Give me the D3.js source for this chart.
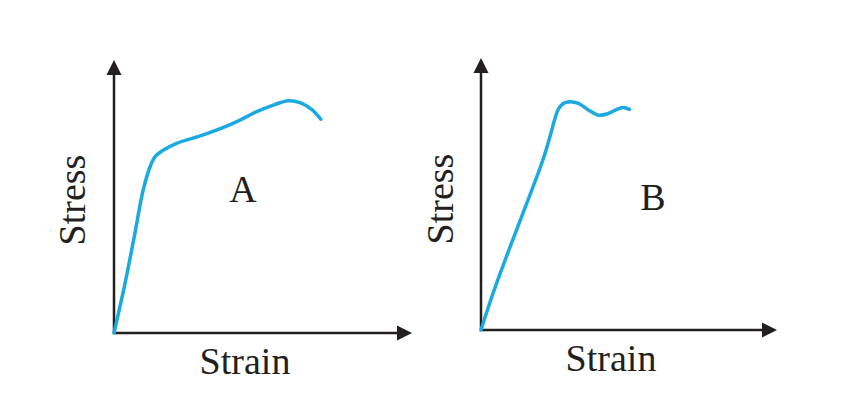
<!DOCTYPE html>
<html>
<head>
<meta charset="utf-8">
<script src="https://cdn.jsdelivr.net/npm/d3@7"></script>
<style>
  html, body { margin: 0; padding: 0; background: #ffffff; }
  svg { display: block; }
  text { font-family: "Liberation Serif", "Times New Roman", serif; fill: #231f20; }
</style>
</head>
<body>
<svg id="chart" width="841" height="404"></svg>
<script>
// ---- Data (arbitrary units, 0..100 on both axes) ----
const strainA = [0, 3.7, 6.8, 9.8, 12.1, 13.8, 16.6, 21.0, 28.9, 37.8, 42.3, 47.9, 53.5, 58.5, 62.4, 66.3, 69.4];
const stressA = [0, 18.2, 35.3, 52.4, 60.9, 64.6, 67.0, 69.5, 72.2, 75.8, 78.0, 81.1, 83.5, 85.1, 84.4, 81.9, 78.3];

const strainB = [0, 4.1, 9.8, 15.5, 20.9, 23.3, 25.0, 26.1, 27.8, 30.1, 32.9, 36.3, 39.6, 42.5, 45.9, 48.1, 50.1];
const stressB = [0, 13.6, 30.5, 46.7, 62.5, 71.1, 77.8, 81.1, 83.3, 83.9, 83.3, 80.9, 79.0, 79.4, 81.1, 81.8, 81.1];

const panelNames = ["A", "B"];
const xAxisTitle = "Strain";
const yAxisTitle = "Stress";
const axisDomain = [0, 100];

// ---- Layout ----
const svg = d3.select("#chart");
const axisColor = "#231f20";
const curveColor = "#1ba9e1";

const panels = [
  { name: panelNames[0], strain: strainA, stress: stressA,
    x0: 114, x1: 412, y0: 333, y1: 60,
    label: [243, 202], xTitle: [245, 374], yTitle: [85, 200] },
  { name: panelNames[1], strain: strainB, stress: stressB,
    x0: 481, x1: 777, y0: 330, y1: 58,
    label: [653, 210], xTitle: [611, 371], yTitle: [453, 199] }
];

const arrowLen = 15, arrowHalf = 7.5;

panels.forEach(p => {
  const x = d3.scaleLinear().domain(axisDomain).range([p.x0, p.x1]);
  const y = d3.scaleLinear().domain(axisDomain).range([p.y0, p.y1]);
  const g = svg.append("g");

  // axes lines
  g.append("line")
    .attr("x1", x(0)).attr("y1", y(0))
    .attr("x2", x(100) - arrowLen + 1).attr("y2", y(0))
    .attr("stroke", axisColor).attr("stroke-width", 2.5);
  g.append("line")
    .attr("x1", x(0)).attr("y1", y(0) + 1)
    .attr("x2", x(0)).attr("y2", y(100) + arrowLen - 1)
    .attr("stroke", axisColor).attr("stroke-width", 2.5);

  // arrowheads
  const xt = x(100), yt = y(0);
  g.append("path")
    .attr("d", `M${xt},${yt} L${xt - arrowLen},${yt - arrowHalf} L${xt - arrowLen},${yt + arrowHalf} Z`)
    .attr("fill", axisColor);
  const xa = x(0), ya = y(100);
  g.append("path")
    .attr("d", `M${xa},${ya} L${xa - arrowHalf},${ya + arrowLen} L${xa + arrowHalf},${ya + arrowLen} Z`)
    .attr("fill", axisColor);

  // curve
  const pts = p.strain.map((s, i) => [s, p.stress[i]]);
  const line = d3.line()
    .x(d => x(d[0])).y(d => y(d[1]))
    .curve(d3.curveCatmullRom.alpha(0.5));
  g.append("path")
    .datum(pts)
    .attr("d", line)
    .attr("fill", "none")
    .attr("stroke", curveColor)
    .attr("stroke-width", 3.5)
    .attr("stroke-linecap", "round")
    .attr("stroke-linejoin", "round");

  // texts
  g.append("text")
    .attr("x", p.label[0]).attr("y", p.label[1])
    .attr("text-anchor", "middle")
    .style("font-size", "38px")
    .text(p.name);
  g.append("text")
    .attr("x", p.xTitle[0]).attr("y", p.xTitle[1])
    .attr("text-anchor", "middle")
    .style("font-size", "38px")
    .text(xAxisTitle);
  g.append("text")
    .attr("transform", `translate(${p.yTitle[0]},${p.yTitle[1]}) rotate(-90)`)
    .attr("text-anchor", "middle")
    .style("font-size", "38px")
    .text(yAxisTitle);
});
</script>
</body>
</html>
